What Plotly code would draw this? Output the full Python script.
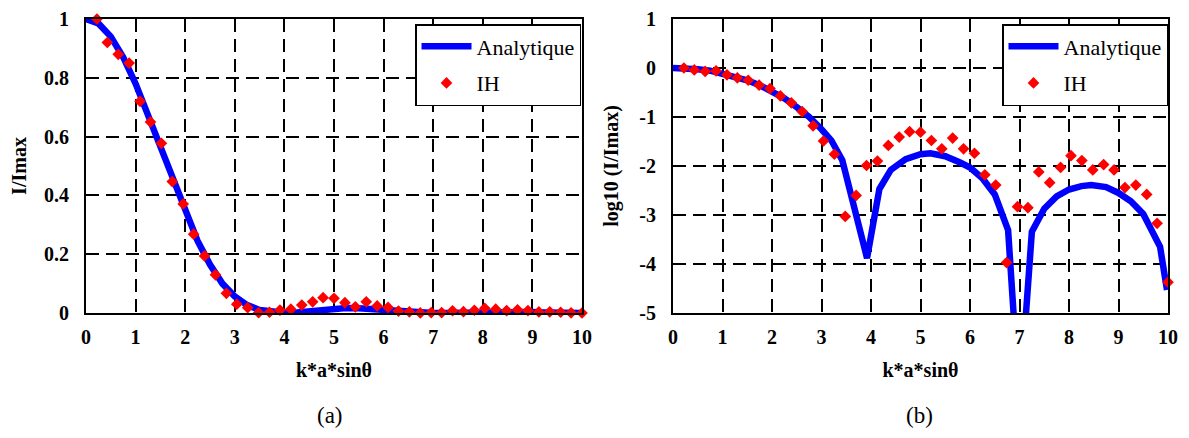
import plotly.graph_objects as go

# ---------------- data ----------------
x_ih = [0.22, 0.43, 0.65, 0.87, 1.09, 1.30, 1.52, 1.74, 1.96, 2.17,
        2.39, 2.61, 2.83, 3.04, 3.26, 3.48, 3.70, 3.91, 4.13, 4.35,
        4.57, 4.78, 5.00, 5.22, 5.43, 5.65, 5.87, 6.09, 6.30, 6.52,
        6.74, 6.96, 7.17, 7.39, 7.61, 7.83, 8.04, 8.26, 8.48, 8.70,
        8.91, 9.13, 9.35, 9.57, 9.78, 10.00]

ih_lin = [1.0, 0.92, 0.88, 0.85, 0.72, 0.65, 0.577, 0.447, 0.371, 0.268,
          0.194, 0.13, 0.067, 0.03, 0.018, 0.001, 0.0025, 0.01, 0.013, 0.027,
          0.038, 0.052, 0.05, 0.035, 0.021, 0.038, 0.024, 0.019, 0.0066, 0.004,
          0.0001, 0.0015, 0.0014, 0.0076, 0.0046, 0.0093, 0.016, 0.013, 0.0083, 0.011,
          0.0083, 0.0036, 0.004, 0.0026, 0.0007, 0.00004]

ih_log = [0.00, -0.04, -0.07, -0.06, -0.14, -0.20, -0.25, -0.35, -0.42, -0.57,
          -0.71, -0.89, -1.18, -1.49, -1.76, -3.03, -2.60, -1.99, -1.90, -1.58,
          -1.41, -1.30, -1.31, -1.48, -1.65, -1.43, -1.65, -1.74, -2.18, -2.39,
          -3.97, -2.83, -2.85, -2.12, -2.34, -2.03, -1.79, -1.89, -2.08, -1.97,
          -2.08, -2.44, -2.39, -2.58, -3.17, -4.37]

x_ana_lin = [0, 0.25, 0.5, 0.75, 1.0, 1.25, 1.5, 1.75, 2.0, 2.25,
             2.5, 2.75, 3.0, 3.25, 3.5, 3.75, 4.0, 4.25, 4.5, 4.75,
             5.0, 5.25, 5.5, 5.75, 6.0, 6.25, 6.5, 6.75, 7.0, 7.25,
             7.5, 7.75, 8.0, 8.25, 8.5, 8.75, 9.0, 9.25, 9.5, 9.75, 10.0]
ana_lin = [1.0, 0.985, 0.94, 0.87, 0.78, 0.67, 0.56, 0.45, 0.34, 0.245,
           0.165, 0.10, 0.056, 0.027, 0.010, 0.0025, 0.0005, 0.002, 0.006, 0.011,
           0.016, 0.017, 0.016, 0.013, 0.0095, 0.006, 0.003, 0.0008, 0.0, 0.0004,
           0.0013, 0.0024, 0.0033, 0.0039, 0.0041, 0.0039, 0.0031, 0.0021, 0.0011, 0.0003, 0.00003]

x_ana_log = [0, 0.25, 0.5, 0.75, 1.0, 1.25, 1.5, 1.75, 2.0, 2.25,
             2.5, 2.75, 3.0, 3.2, 3.42, 3.92, 4.17, 4.4, 4.7, 5.0,
             5.2, 5.5, 5.8, 6.0, 6.25, 6.5, 6.77, 7.0, 7.25, 7.5,
             7.75, 8.0, 8.25, 8.45, 8.75, 9.0, 9.25, 9.5, 9.84, 9.98]
ana_log = [0, -0.006, -0.024, -0.055, -0.11, -0.17, -0.25, -0.35, -0.47, -0.62,
           -0.80, -1.00, -1.25, -1.48, -1.88, -3.88, -2.47, -2.08, -1.86, -1.76,
           -1.74, -1.80, -1.93, -2.03, -2.25, -2.58, -3.31, -6.85, -3.34, -2.87,
           -2.62, -2.48, -2.41, -2.39, -2.43, -2.55, -2.72, -2.98, -3.65, -4.53]

x_ticks = [0, 1, 2, 3, 4, 5, 6, 7, 8, 9, 10]
y_lin_ticks = [0, 0.2, 0.4, 0.6, 0.8, 1]
y_log_ticks = [-5, -4, -3, -2, -1, 0, 1]
y_log_labels = ["-5", "-4", "-3", "-2", "-1", "0", "1"]

# ---------------- figure ----------------
# the page body has an 8px margin, so the figure is drawn 8px in from the
# window's top-left corner; positions below are page pixels minus that offset
OFF = 8
W, H = 1189 - 2 * OFF, 438 - 2 * OFF
SERIF = "Times New Roman, Liberation Serif, serif"
BLUE = "#0000FF"
RED = "#FF0000"


def px(p):
    return (p - OFF) / W


def py(p):
    return 1 - (p - OFF) / H


fig = go.Figure()

fig.add_trace(go.Scatter(x=x_ana_lin, y=ana_lin, mode="lines", name="Analytique",
                         line=dict(color=BLUE, width=6.5), xaxis="x", yaxis="y",
                         legend="legend", legendgroup="a"))
fig.add_trace(go.Scatter(x=x_ih, y=ih_lin, mode="markers", name="IH",
                         marker=dict(symbol="diamond", color=RED, size=9),
                         cliponaxis=False, xaxis="x", yaxis="y",
                         legend="legend", legendgroup="b"))
fig.add_trace(go.Scatter(x=x_ana_log, y=ana_log, mode="lines", name="Analytique",
                         line=dict(color=BLUE, width=6.5), xaxis="x2", yaxis="y2",
                         legend="legend2", legendgroup="c"))
fig.add_trace(go.Scatter(x=x_ih, y=ih_log, mode="markers", name="IH",
                         marker=dict(symbol="diamond", color=RED, size=9),
                         cliponaxis=False, xaxis="x2", yaxis="y2",
                         legend="legend2", legendgroup="d"))

ydom = [py(313), py(19)]
tickfont = dict(family=SERIF, size=20, color="black", weight="bold")
titlefont = dict(family=SERIF, size=20, color="black", weight="bold")
BASE = dict(showline=True, linecolor="black", linewidth=2, mirror=True,
            showgrid=True, gridcolor="black", gridwidth=1.6, griddash="13px,7px",
            zeroline=False, ticks="", tickfont=tickfont, automargin=False)


def xaxis(dom, anchor):
    return dict(domain=dom, anchor=anchor, range=[0, 10], tickvals=x_ticks,
                ticklabelstandoff=5,
                title=dict(text="k*a*sinθ", font=titlefont, standoff=16), **BASE)


legend_common = dict(xanchor="left", yanchor="top",
                     bgcolor="white", bordercolor="black", borderwidth=1.5,
                     font=dict(family=SERIF, size=22, color="black"),
                     itemwidth=50, tracegroupgap=5, traceorder="grouped")

fig.update_layout(
    width=W, height=H, margin=dict(l=0, r=0, t=0, b=0, autoexpand=False),
    paper_bgcolor="white", plot_bgcolor="white",
    xaxis=xaxis([px(86), px(582)], "y"),
    xaxis2=xaxis([px(673), px(1168)], "y2"),
    yaxis=dict(domain=ydom, anchor="x", range=[0, 1], tickvals=y_lin_ticks,
               ticklabelstandoff=11,
               title=dict(text="I/Imax", font=titlefont, standoff=15), **BASE),
    yaxis2=dict(domain=ydom, anchor="x2", range=[-5, 1], tickvals=y_log_ticks,
                ticktext=y_log_labels, ticklabelstandoff=11,
                title=dict(text="log10 (I/Imax)", font=titlefont, standoff=15), **BASE),
    legend=dict(x=px(415), y=py(24), **legend_common),
    legend2=dict(x=px(1002), y=py(24), **legend_common),
    showlegend=True,
    annotations=[
        dict(text="(a)", x=px(330), y=py(429), xref="paper", yref="paper",
             xanchor="center", yanchor="bottom", showarrow=False, borderpad=0,
             font=dict(family=SERIF, size=23, color="black")),
        dict(text="(b)", x=px(920), y=py(429), xref="paper", yref="paper",
             xanchor="center", yanchor="bottom", showarrow=False, borderpad=0,
             font=dict(family=SERIF, size=23, color="black")),
    ],
)

fig.write_html("out.html")
